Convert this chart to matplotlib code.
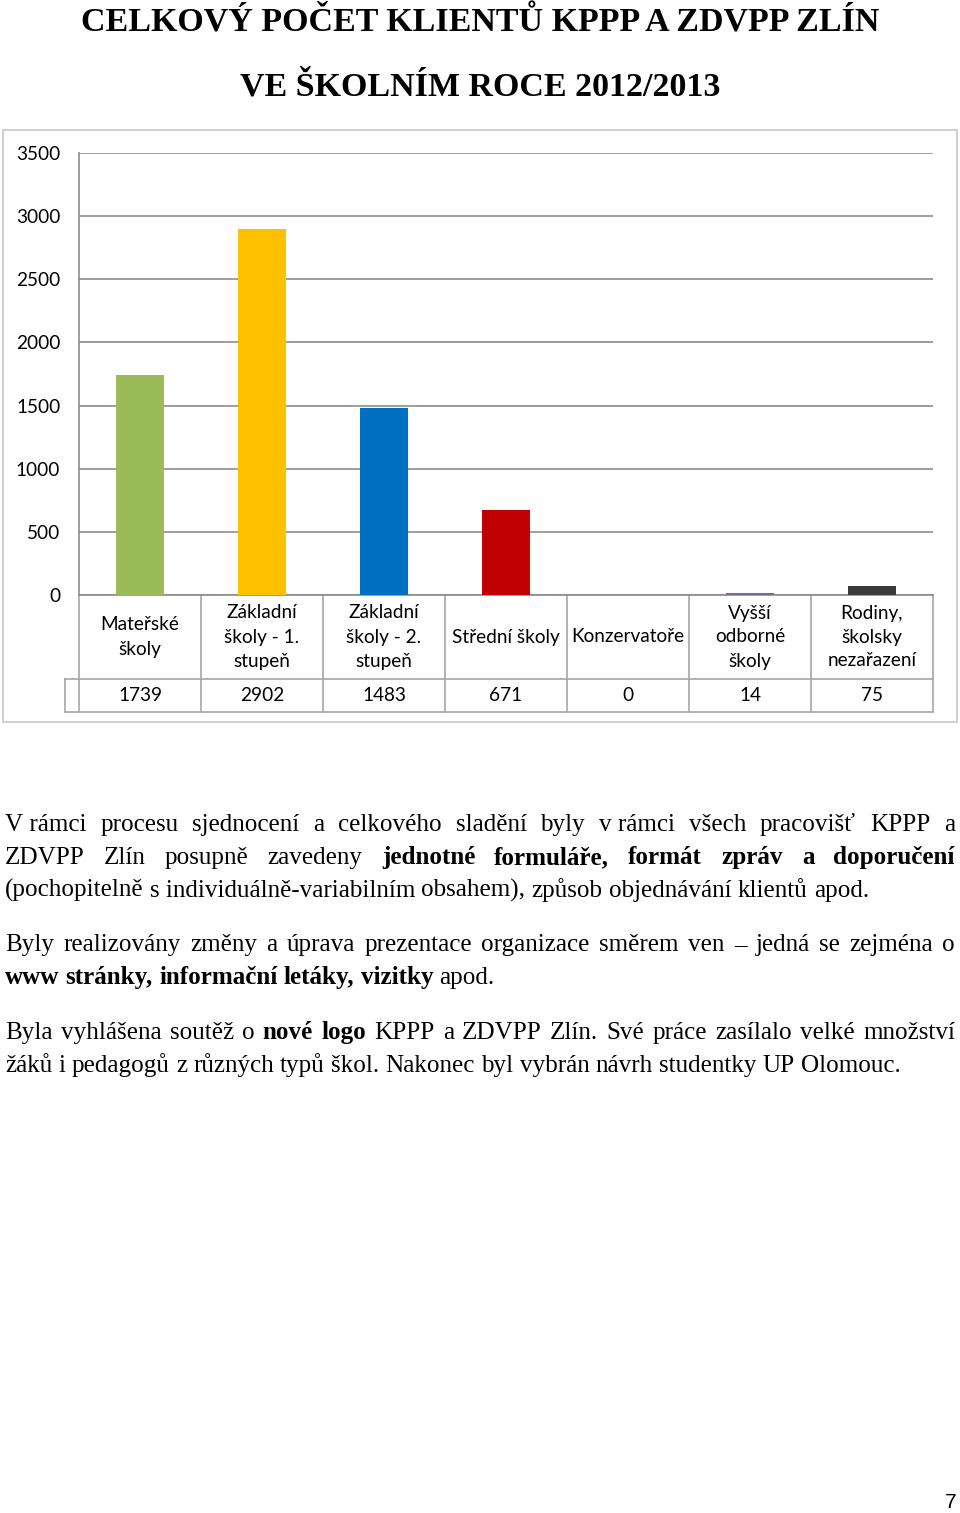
import numpy as np
import matplotlib
matplotlib.use('Agg')
import matplotlib.pyplot as plt
from matplotlib.patches import Rectangle
from matplotlib.transforms import blended_transform_factory

W, H = 960, 1513

# data grafu
kategorie = ['Mateřské\nškoly', 'Základní\nškoly - 1.\nstupeň', 'Základní\nškoly - 2.\nstupeň',
             'Střední školy', 'Konzervatoře', 'Vyšší\nodborné\nškoly', 'Rodiny,\nškolsky\nnezařazení']
pocty = [1739, 2902, 1483, 671, 0, 14, 75]
barvy = ['#9BBB59', '#FFC000', '#0070C0', '#C00000', '#F79646', '#8064A2', '#3A3A3A']
osa_y = np.arange(0, 3501, 500)

titulek = ['CELKOVÝ POČET KLIENTŮ KPPP A ZDVPP ZLÍN', 'VE ŠKOLNÍM ROCE 2012/2013']

# odstavce: (segmenty, zarovnat do bloku)
NB = '\u00a0'
odstavce = [
    [([('V' + NB + 'rámci procesu sjednocení a celkového sladění byly v' + NB + 'rámci všech pracovišť KPPP a', False)], True),
     ([('ZDVPP Zlín posupně zavedeny', False), ('jednotné formuláře, formát zpráv a doporučení', True)], True),
     ([('(pochopitelně s' + NB + 'individuálně-variabilním obsahem), způsob objednávání klientů apod.', False)], False)],
    [([('Byly realizovány změny a úprava prezentace organizace směrem ven – jedná se zejména o', False)], True),
     ([('www stránky, informační letáky, vizitky', True), ('apod.', False)], False)],
    [([('Byla vyhlášena soutěž o', False), ('nové logo', True), ('KPPP a ZDVPP Zlín. Své práce zasílalo velké množství', False)], True),
     ([('žáků i pedagogů z různých typů škol. Nakonec byl vybrán návrh studentky UP Olomouc.', False)], False)],
]
baseline = [[831, 864, 897], [951, 984], [1039, 1072]]

fig = plt.figure(figsize=(W / 100, H / 100), dpi=100)
r = fig.canvas.get_renderer()


def fx(x):
    return x / W


def fy(y):
    return 1 - y / H


def sirka(s, **kw):
    t = fig.text(0, 0, s, **kw)
    w = t.get_window_extent(renderer=r).width
    t.remove()
    return w


def velikost(s, cil, **kw):
    return 10 * cil / sirka(s, fontsize=10, **kw)


SERIF = 'Liberation Serif'
SANS = 'Lato'

# nadpis
fs_t = velikost(titulek[0], 796, family=SERIF, weight='bold')
fig.text(0.5, fy(32), titulek[0], ha='center', va='baseline', family=SERIF, weight='bold', fontsize=fs_t)
fig.text(0.5, fy(95), titulek[1], ha='center', va='baseline', family=SERIF, weight='bold', fontsize=fs_t)

# ramecek grafu
fig.patches.append(Rectangle((fx(3), fy(722)), fx(957) - fx(3), (722 - 130) / H, transform=fig.transFigure,
                             fill=False, edgecolor='#D0D0D0', lw=1.5))

fs_c = velikost('Konzervatoře', 114, family=SANS)

ax = fig.add_axes([fx(79), fy(595), fx(933) - fx(79), (595 - 153) / H])
x = np.arange(len(pocty))
ax.bar(x, pocty, width=0.4, color=barvy, zorder=3)
ax.set_xlim(-0.5, len(pocty) - 0.5)
ax.set_ylim(0, 3500)
ax.set_yticks(osa_y)
ax.set_xticks([])
ax.yaxis.grid(True, color='#8C8C8C', lw=1.2)
ax.tick_params(axis='y', length=0, pad=13.5, labelsize=fs_c)
for lab in ax.get_yticklabels():
    lab.set_family(SANS)
for s in ['top', 'right']:
    ax.spines[s].set_visible(False)
for s in ['left', 'bottom']:
    ax.spines[s].set_color('#8C8C8C')
    ax.spines[s].set_linewidth(1.2)

# tabulka dat pod grafem
tr = blended_transform_factory(ax.transData, fig.transFigure)
cara = dict(color='#A6A6A6', lw=1.2, transform=tr, clip_on=False)
for i in range(len(pocty) + 1):
    ax.plot([i - 0.5, i - 0.5], [fy(595), fy(712)], **cara)
x_levy = -0.5 - 14 / ((933 - 79) / len(pocty))
for yy in [679, 712]:
    ax.plot([x_levy, len(pocty) - 0.5], [fy(yy), fy(yy)], **cara)
ax.plot([x_levy, x_levy], [fy(679), fy(712)], **cara)
for i, (k, v) in enumerate(zip(kategorie, pocty)):
    ax.text(i, fy(637), k, ha='center', va='center', multialignment='center', transform=tr,
            family=SANS, fontsize=fs_c, linespacing=1.5)
    ax.text(i, fy(695.5), str(v), ha='center', va='center', transform=tr, family=SANS, fontsize=fs_c)

# text stranky
fs_p = velikost(odstavce[0][2][0][0][0], 865, family=SERIF)


def vaha(b):
    return 'bold' if b else 'normal'


mezera = sirka('a a', family=SERIF, fontsize=fs_p) - sirka('aa', family=SERIF, fontsize=fs_p)
for odst, ys in zip(odstavce, baseline):
    for (segmenty, zarovnat), y in zip(odst, ys):
        slova = []
        for text, tucne in segmenty:
            for s in text.split(' '):
                slova.append((s, tucne))
        w = [sirka(s, family=SERIF, weight=vaha(b), fontsize=fs_p) for s, b in slova]
        if zarovnat:
            gap = (955 - 5 - sum(w)) / (len(slova) - 1)
        else:
            gap = mezera
        xp = 5
        for (s, b), wi in zip(slova, w):
            fig.text(fx(xp), fy(y), s, ha='left', va='baseline', family=SERIF, weight=vaha(b), fontsize=fs_p)
            xp += wi + gap

# cislo stranky
fig.text(fx(957), fy(1508), '7', ha='right', va='baseline', family='Liberation Sans', fontsize=15)

fig.savefig('out.png', dpi=100)
